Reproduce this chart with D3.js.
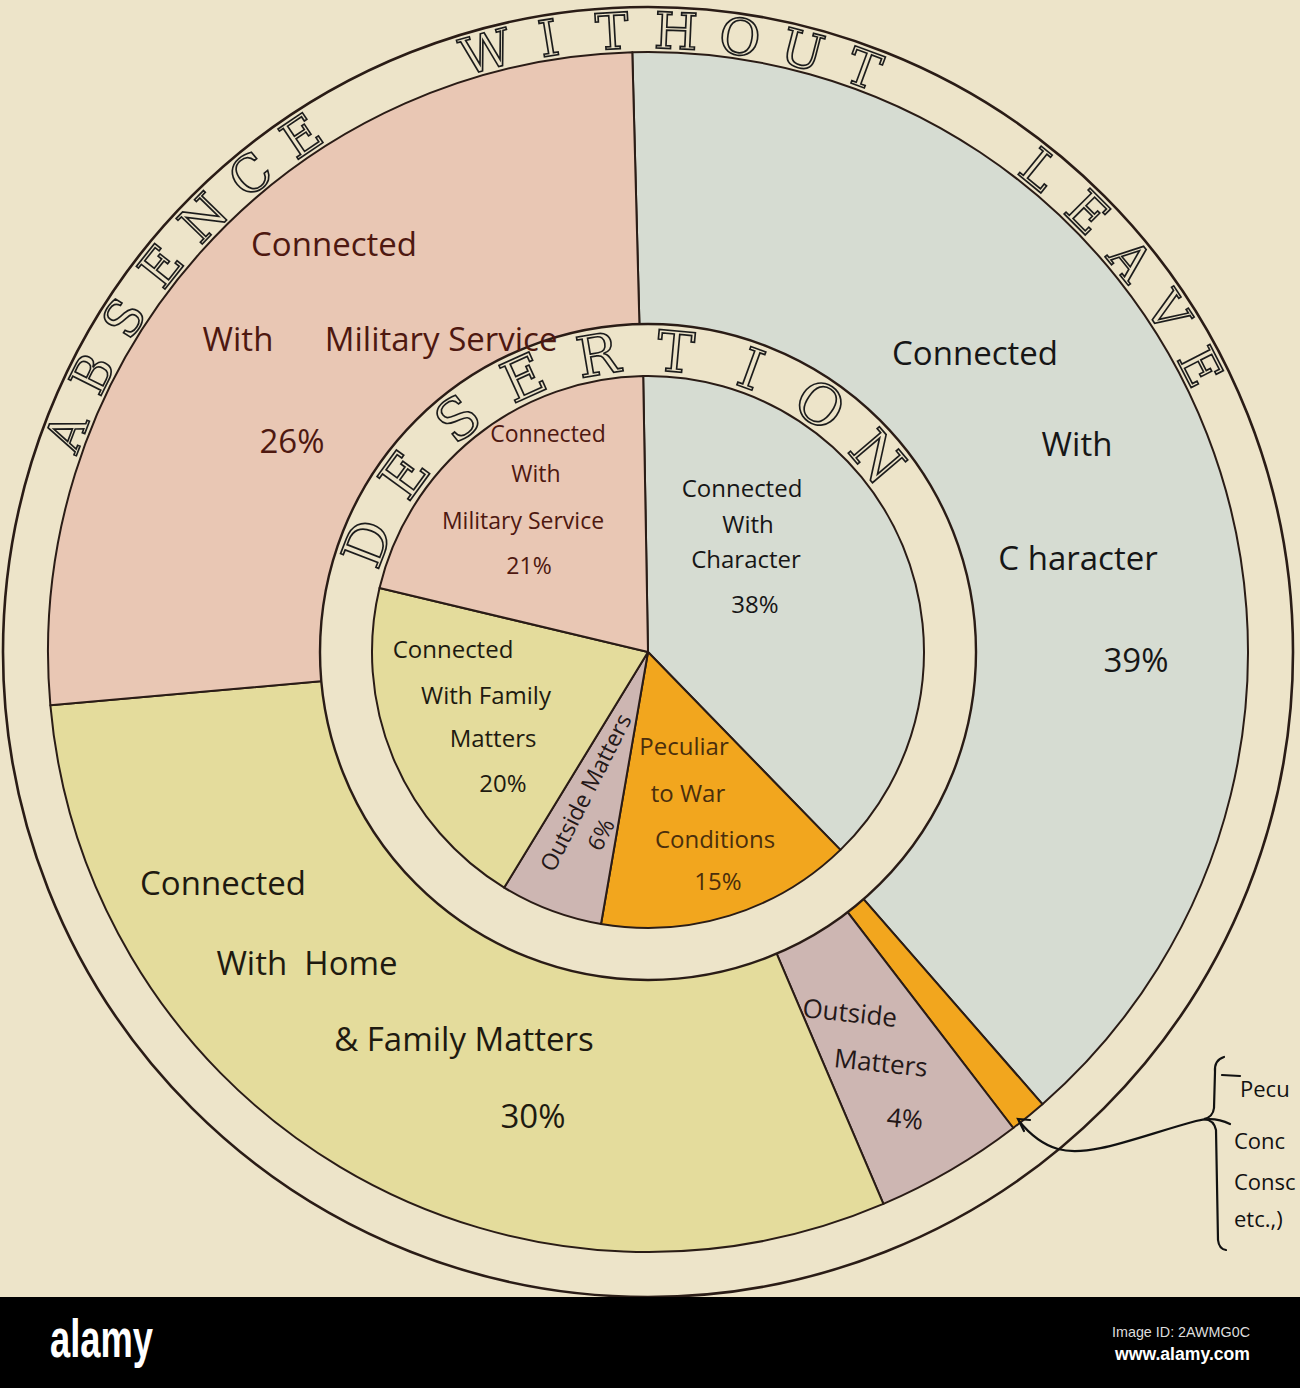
<!DOCTYPE html>
<html>
<head>
<meta charset="utf-8">
<script src="https://cdn.jsdelivr.net/npm/d3@7"></script>
<style>
  html, body { margin: 0; padding: 0; background: #ede4c9; overflow: hidden; }
  svg { display: block; }
</style>
</head>
<body>
<div id="chart"></div>
<script>
// shares in percent, clockwise from the top
const kinds = ["character", "war", "outside", "family", "military"];
const outerCats = ["Connected With Character", "Peculiar to War Conditions", "Outside Matters", "Connected With Home & Family Matters", "Connected With Military Service"];
const outerValues = [39, 1, 4, 30, 26];
const innerCats = ["Connected With Character", "Peculiar to War Conditions", "Outside Matters", "Connected With Family Matters", "Connected With Military Service"];
const innerValues = [38, 15, 6, 20, 21];
const outerTitle = ["ABSENCE", "WITHOUT", "LEAVE"];
const innerTitle = ["DESERTION"];
// the note is cut by the page edge in the source; only these parts show
const noteLines = ["Pecu", "Conc", "Consc", "etc.,)"];

const W = 1300, H = 1388;
const cx = 648, cy = 652;
const R = { frame: 645, outer: 600, ring: 328, inner: 276 };
const deg = Math.PI / 180;
const ink = "#2a1c16";

const svg = d3.select("#chart").append("svg").attr("width", W).attr("height", H);
svg.append("rect").attr("width", W).attr("height", H).attr("fill", "#ede4c9");

const color = d3.scaleOrdinal().domain(kinds)
  .range(["#d6dcd2", "#f2a61e", "#cdb6b2", "#e4dc9c", "#e9c7b4"]);
const textColor = d3.scaleOrdinal().domain(kinds)
  .range(["#161616", "#4a2e0c", "#241818", "#1e1a10", "#4e1810"]);

const g = svg.append("g").attr("transform", `translate(${cx},${cy})`);

// outer frame ring
g.append("circle").attr("r", R.frame).attr("fill", "#ede4c9").attr("stroke", ink).attr("stroke-width", 2.6);

// outer pie (absence without leave)
const pieOuter = d3.pie().sort(null).startAngle(-1.5 * deg).endAngle(2 * Math.PI - 1.5 * deg);
const arcOuter = d3.arc().innerRadius(0).outerRadius(R.outer);
g.append("g").selectAll("path").data(pieOuter(outerValues)).join("path")
  .attr("d", arcOuter)
  .attr("fill", (d, i) => color(kinds[i]))
  .attr("stroke", ink).attr("stroke-width", 2).attr("stroke-linejoin", "round");

// inner ring + inner pie (desertion)
g.append("circle").attr("r", R.ring).attr("fill", "#ede4c9").attr("stroke", ink).attr("stroke-width", 2.4);
const pieInner = d3.pie().sort(null).startAngle(-1 * deg).endAngle(2 * Math.PI - 1 * deg);
const arcInner = d3.arc().innerRadius(0).outerRadius(R.inner);
g.append("g").selectAll("path").data(pieInner(innerValues)).join("path")
  .attr("d", arcInner)
  .attr("fill", (d, i) => color(kinds[i]))
  .attr("stroke", ink).attr("stroke-width", 2).attr("stroke-linejoin", "round");

// hollow capitals round the rings
function ringText(words, r, start, step, gap, size) {
  let a = start;
  words.forEach((w, wi) => {
    if (wi > 0) a += gap;
    [...w].forEach((ch, ci) => {
      if (ci > 0) a += step;
      g.append("text")
        .attr("transform", `rotate(${a}) translate(0,${-r})`)
        .attr("text-anchor", "middle").attr("dominant-baseline", "central")
        .attr("font-family", "DejaVu Serif").attr("font-size", size)
        .attr("fill", "#ede4c9").attr("stroke", "#1c1c1c").attr("stroke-width", 1.7)
        .text(ch);
    });
  });
}
ringText(outerTitle, 621, -69.3, 5.9, 18.8, 50);
ringText(innerTitle, 301, -68.8, 14.8, 0, 56);

// slice labels: text lines, the last line is the share
const outerText = [["Connected", "With", "C haracter"], [], ["Outside", "Matters"],
  ["Connected", "With  Home", "& Family Matters"], ["Connected", "With      Military Service"]];
const outerPos = [
  [[975, 352], [1077, 443], [1078, 557], [1136, 659]],
  [],
  [[850, 1012], [881, 1062], [905, 1118]],
  [[223, 882], [307, 962], [464, 1038], [533, 1115]],
  [[334, 243], [380, 338], [292, 440]]
];
const outerRot = [0, 0, 6, 0, 0];
const outerSize = [33, 0, 26, 33, 33];

const innerText = [["Connected", "With", "Character"], ["Peculiar", "to War", "Conditions"], ["Outside Matters"],
  ["Connected", "With Family", "Matters"], ["Connected", "With", "Military Service"]];
const innerPos = [
  [[742, 487], [748, 523], [746, 558], [755, 603]],
  [[684, 745], [688, 792], [715, 838], [718, 880]],
  [[585, 792], [600, 834]],
  [[453, 648], [486, 694], [493, 737], [503, 782]],
  [[548, 433], [536, 473], [523, 520], [529, 565]]
];
const innerRot = [0, 0, -63, 0, 0];
const innerSize = [24, 24, 23, 24, 23];

function drawLabels(texts, values, pos, rot, size) {
  texts.forEach((lines, i) => {
    if (!lines.length) return;
    const all = lines.concat([values[i] + "%"]);
    all.forEach((t, j) => {
      const [x, y] = pos[i][j];
      svg.append("text")
        .attr("transform", `translate(${x},${y}) rotate(${rot[i]})`)
        .attr("text-anchor", "middle").attr("dominant-baseline", "central")
        .attr("font-family", "Open Sans").attr("font-size", size[i])
        .attr("fill", textColor(kinds[i]))
        .style("white-space", "pre")
        .text(t);
    });
  });
}
drawLabels(outerText, outerValues, outerPos, outerRot, outerSize);
drawLabels(innerText, innerValues, innerPos, innerRot, innerSize);

// side note for the thin orange slice
const note = svg.append("g").attr("fill", "none").attr("stroke", "#111").attr("stroke-width", 2.2).attr("stroke-linecap", "round");
note.append("path").attr("d", "M1224,1057 Q1214,1060 1215,1072 L1214,1108 Q1213,1117 1204,1119 Q1214,1120 1216,1130 L1218,1240 Q1219,1249 1226,1250");
note.append("path").attr("d", "M1230,1124 Q1214,1116 1196,1121 C1140,1136 1090,1158 1058,1149 C1040,1144 1028,1132 1019,1121");
note.append("path").attr("d", "M1030,1120 L1018,1119 L1024,1131");
note.append("path").attr("d", "M1222,1075 L1240,1076");
svg.append("g").selectAll("text").data(noteLines).join("text")
  .attr("x", (d, i) => i === 0 ? 1240 : 1234)
  .attr("y", (d, i) => [1097, 1149, 1190, 1227][i])
  .attr("font-family", "Open Sans").attr("font-size", 22).attr("fill", "#111")
  .text(d => d);

// stock-photo footer band
svg.append("rect").attr("x", 0).attr("y", 1297).attr("width", W).attr("height", H - 1297).attr("fill", "#000");
svg.append("text").attr("x", 50).attr("y", 1357).attr("font-family", "Liberation Sans")
  .attr("font-weight", "bold").attr("font-size", 54).attr("fill", "#fff")
  .attr("textLength", 103).attr("lengthAdjust", "spacingAndGlyphs").text("alamy");
svg.append("text").attr("x", 1250).attr("y", 1337).attr("text-anchor", "end").attr("font-family", "Liberation Sans")
  .attr("font-size", 15).attr("fill", "#ddd").attr("textLength", 138).attr("lengthAdjust", "spacingAndGlyphs").text("Image ID: 2AWMG0C");
svg.append("text").attr("x", 1250).attr("y", 1360).attr("text-anchor", "end").attr("font-family", "Liberation Sans")
  .attr("font-weight", "bold").attr("font-size", 18).attr("fill", "#fff").attr("textLength", 135).attr("lengthAdjust", "spacingAndGlyphs").text("www.alamy.com");
</script>
</body>
</html>
